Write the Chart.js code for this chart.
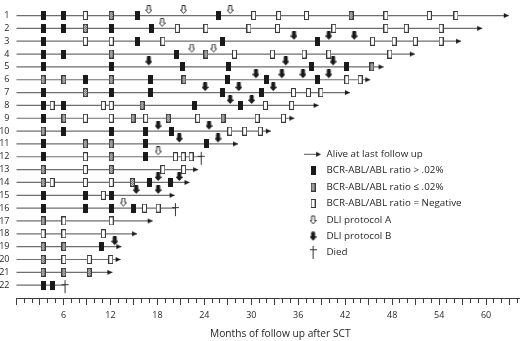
<!DOCTYPE html>
<html><head><meta charset="utf-8">
<script src="https://cdn.jsdelivr.net/npm/chart.js@4.4.1/dist/chart.umd.min.js"></script>
<style>
html,body{margin:0;padding:0;overflow:hidden;background:#fff;width:520px;height:341px}
#wrap{position:relative;width:549px;height:341px}
</style>
</head><body>
<div id="wrap"><canvas id="c" width="549" height="341" style="width:549px;height:341px"></canvas></div>
<script>
// ---------------- DATA ----------------
const rows = [1,2,3,4,5,6,7,8,9,10,11,12,13,14,15,16,17,18,19,20,21,22];
// months of follow-up per patient (row)
const followUp = [62.9,59.5,56.8,50.9,46.9,45.2,42.6,38.6,35.5,32.5,28.3,23.6,23.2,22.1,20.2,20.3,17.4,15.4,13.4,13.3,12.25,6.2];
const diedRows = [12,16,22];
const monthTicks = [6,12,18,24,30,36,42,48,54,60];

// [row, month]
const highRatio = [
 [1,3.4],[1,6.05],[1,15.4],[1,25.85],
 [2,3.4],[2,6.05],[2,12.1],[2,17.25],
 [3,3.4],[3,15.4],[3,26.3],[3,38.4],
 [4,3.4],[4,6.05],[4,20.5],
 [5,3.4],[5,12.1],[5,21.2],[5,27.1],[5,37.65],[5,42.2],
 [6,8.8],[6,17.1],[6,26.95],[6,31.95],[6,38.4],
 [7,3.4],[7,12.1],[7,17.1],[7,26.3],[7,31.25],
 [8,3.4],[8,6.05],[8,22.7],[8,28.65],
 [9,3.4],
 [10,6.05],[10,12.1],[10,16.5],[10,19.85],
 [11,3.4],[11,16.5],[11,24.3],
 [12,3.4],[12,16.5],
 [14,17.0],[14,19.65],
 [15,3.4],[15,8.8],[15,12.1],
 [16,3.4],[16,8.8],[16,12.1],[16,15.0],
 [19,10.9],
 [22,3.4],[22,4.55]
];
const lowRatio = [
 [1,12.1],[1,42.75],
 [2,8.8],
 [4,12.1],[4,24.2],
 [5,45.4],
 [6,3.4],[6,6.05],[6,12.1],[6,21.4],
 [7,8.8],
 [8,16.05],
 [9,6.05],[9,14.9],[9,19.4],[9,26.4],
 [10,3.4],
 [11,8.8],[11,12.1],
 [12,12.1],
 [13,3.4],[13,12.1],
 [14,3.4],[14,14.8],
 [17,3.4],
 [19,3.4],[19,6.05],
 [20,3.4],
 [21,3.4],[21,6.05],[21,9.3]
];
const negative = [
 [1,8.8],[1,30.3],[1,33.5],[1,37.05],[1,47.2],[1,52.75],[1,56.15],
 [2,20.55],[2,24.2],[2,29.7],[2,33.35],[2,40.55],[2,47.2],[2,49.8],[2,54.25],
 [3,8.8],[3,12.1],[3,18.7],[3,45.5],[3,48.25],[3,50.95],[3,54.25],
 [4,27.85],[4,32.7],[4,36.75],[4,39.9],[4,47.7],
 [6,42.2],[6,43.9],
 [7,35.4],[7,37.3],[7,38.9],
 [8,4.55],[8,11.1],[8,12.1],[8,31.8],[8,35.15],
 [9,8.8],[9,12.1],[9,16.5],[9,23.15],[9,30.75],[9,34.1],
 [10,27.25],[10,29.15],[10,31.15],
 [12,8.8],[12,20.3],[12,21.3],[12,22.3],
 [13,8.8],[13,18.7],[13,21.35],
 [14,4.55],[14,8.8],[14,12.1],
 [15,11.1],
 [16,16.35],[16,18.1],
 [17,6.05],[17,12.1],
 [18,3.4],[18,6.05],[18,11.1],
 [20,6.05],[20,9.3],[20,12.05]
];
const dliA = [
 [1,16.9],[1,21.35],[1,27.3],
 [2,18.6],
 [4,22.4],[4,25.2],
 [12,18.1],
 [16,13.65]
];
const dliB = [
 [3,35.45],[3,39.9],[3,43.15],
 [5,16.9],[5,34.4],[5,40.45],
 [6,30.6],[6,33.9],[6,36.6],[6,39.9],
 [7,24.1],[7,28.4],[7,32.8],
 [8,27.3],[8,30.05],
 [10,18.1],[10,24.6],
 [11,20.8],[11,25.75],
 [14,18.1],[14,20.8],
 [15,15.3],[15,18.1],
 [19,12.55]
];
const legendLabels = ['Alive at last follow up','BCR-ABL/ABL ratio > .02%','BCR-ABL/ABL ratio \u2264 .02%','BCR-ABL/ABL ratio = Negative','DLI protocol A','DLI protocol B','Died'];

// ---------------- ICONS ----------------
function mk(w,h,fn){const c=document.createElement('canvas');c.width=w;c.height=h;const g=c.getContext('2d');fn(g);return c;}
const INK='#1a1a1a';
const icHigh = mk(5,9,g=>{g.fillStyle=INK;g.fillRect(0,0,5,9);});
const icNeg = mk(5,9,g=>{g.fillStyle='#fff';g.fillRect(0,0,5,9);g.strokeStyle='#3a3a3a';g.lineWidth=1;g.strokeRect(0.5,0.5,4,8);});
const icLow = mk(5,9,g=>{g.fillStyle='#d0d0d0';g.fillRect(0,0,5,9);g.fillStyle='#6a6a6a';
  for(let y=1;y<8;y++)for(let x=1;x<4;x++)if((x+y)%2===0)g.fillRect(x,y,1,1);
  g.strokeStyle='#3a3a3a';g.lineWidth=1;g.strokeRect(0.5,0.5,4,8);});
function arrowPath(g,oy){g.beginPath();g.moveTo(2,oy+0.5);g.lineTo(5,oy+0.5);g.lineTo(5,oy+5);g.lineTo(6.5,oy+5);g.lineTo(3.5,oy+8.5);g.lineTo(0.5,oy+5);g.lineTo(2,oy+5);g.closePath();}
const icA = mk(7,21,g=>{arrowPath(g,0);g.fillStyle='#fff';g.fill();g.strokeStyle='#333';g.lineWidth=1;g.stroke();});
const icB = mk(7,21,g=>{arrowPath(g,0);g.fillStyle=INK;g.fill();g.strokeStyle=INK;g.lineWidth=1;g.stroke();});
const icAL = mk(7,10,g=>{arrowPath(g,0.5);g.fillStyle='#fff';g.fill();g.strokeStyle='#333';g.lineWidth=1;g.stroke();});
const icBL = mk(7,10,g=>{arrowPath(g,0.5);g.fillStyle=INK;g.fill();g.strokeStyle=INK;g.lineWidth=1;g.stroke();});
const icEnd = mk(12,7,g=>{g.fillStyle=INK;g.beginPath();g.moveTo(1,1);g.lineTo(6,3.5);g.lineTo(1,6);g.closePath();g.fill();});
const icEndL = mk(18,7,g=>{g.strokeStyle='#555';g.lineWidth=1;g.beginPath();g.moveTo(0,3.5);g.lineTo(13,3.5);g.stroke();
  g.fillStyle=INK;g.beginPath();g.moveTo(12,1);g.lineTo(17,3.5);g.lineTo(12,6);g.closePath();g.fill();});
const icDied = mk(9,24,g=>{g.fillStyle='#333';g.fillRect(4,7,1,13);g.fillRect(1,11,7,1);});
const icDiedL = mk(7,13,g=>{g.fillStyle='#333';g.fillRect(3,0,1,13);g.fillRect(0,3,7,1);});
const legendIcons=[icEndL,icHigh,icLow,icNeg,icAL,icBL,icDiedL];

// ---------------- DATASETS ----------------
const pts = list => list.map(([r,m])=>({x:m,y:r}));
const markerDs = (label,list,icon)=>({label,data:pts(list),pointStyle:icon,pointRadius:4,pointHoverRadius:4,showLine:false,order:1,clip:false});
const aliveEnds = rows.filter(r=>!diedRows.includes(r)).map(r=>[r,followUp[r-1]]);
const diedEnds = diedRows.map(r=>[r,followUp[r-1]]);
const datasets = [
  markerDs(legendLabels[0],aliveEnds,icEnd),
  markerDs(legendLabels[1],highRatio,icHigh),
  markerDs(legendLabels[2],lowRatio,icLow),
  markerDs(legendLabels[3],negative,icNeg),
  markerDs(legendLabels[4],dliA,icA),
  markerDs(legendLabels[5],dliB,icB),
  markerDs(legendLabels[6],diedEnds,icDied)
];
rows.forEach((r,i)=>datasets.push({label:'Patient '+r,data:[{x:0,y:r},{x:followUp[i],y:r}],showLine:true,borderColor:'#6e6e6e',borderWidth:1.2,pointRadius:0,order:10,clip:false}));

const FONT='"Open Sans"';
const TXT='#231f20';
const legendPos={id:'legendPos',afterLayout(chart){const l=chart.legend;if(!l)return;l.left=298;l.top=142.8;l.bottom=300;l.right=l.left+l.width;}};

new Chart(document.getElementById('c'),{
  type:'scatter',
  data:{datasets},
  plugins:[legendPos],
  options:{
    responsive:false,devicePixelRatio:1,animation:false,events:[],
    layout:{padding:0},
    scales:{
      x:{type:'linear',min:0,max:67.4,
        afterBuildTicks:s=>{const t=[];for(let v=0;v<=67;v++)t.push({value:v});s.ticks=t;},
        afterFit:s=>{s.height=43;s.paddingLeft=0;s.paddingRight=0;},
        border:{display:true,color:'#3c3c3c',width:1},
        grid:{display:true,drawOnChartArea:false,drawTicks:true,tickLength:7,tickColor:'#3c3c3c',tickWidth:1,
          tickBorderDash:ctx=>(ctx.tick&&ctx.tick.value%3===0)?[]:[4,20]},
        ticks:{autoSkip:false,maxRotation:0,padding:5,color:TXT,font:{family:FONT,size:9},
          callback:v=>monthTicks.includes(v)?String(v):''},
        title:{display:true,text:'Months of follow up after SCT',color:TXT,font:{family:FONT,size:10.2},padding:{top:0,bottom:1}}
      },
      y:{type:'linear',reverse:true,min:0.18,max:23,position:'left',
        afterBuildTicks:s=>{s.ticks=rows.map(r=>({value:r}));},
        afterFit:s=>{s.width=16.5;s.paddingTop=0;s.paddingBottom=0;},
        border:{display:false},
        grid:{display:false,drawTicks:false},
        ticks:{autoSkip:false,padding:7,color:TXT,font:{family:FONT,size:9},callback:v=>String(v)}
      }
    },
    plugins:{
      tooltip:{enabled:false},
      legend:{position:'chartArea',align:'start',
        labels:{usePointStyle:true,pointStyleWidth:17,padding:6.6,color:TXT,font:{family:FONT,size:9.8},
          generateLabels:()=>legendLabels.map((t,i)=>({text:t,pointStyle:legendIcons[i],fillStyle:'transparent',strokeStyle:'transparent',lineWidth:0,hidden:false,datasetIndex:i,fontColor:TXT,textAlign:'left',rotation:0}))}
      }
    }
  }
});
</script>
</body></html>
